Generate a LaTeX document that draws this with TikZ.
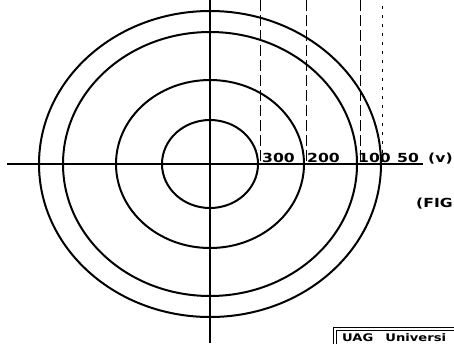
\documentclass[tikz,border=0pt]{standalone}
\usepackage{fontspec}
\setmainfont{DejaVu Sans}
\newfontfamily\letterfont[FakeStretch=1.25]{DejaVu Sans Bold}
\usetikzlibrary{positioning,calc}
\tikzset{
  axisline/.style={draw=black,line width=2.1pt},
  ring/.style={draw=black,line width=2pt},
  guide/.style={draw=black,line width=1pt,dash pattern=on 11pt off 4pt},
  guidedot/.style={draw=black,line width=1pt,dash pattern=on 3pt off 6pt},
  voltlabel/.style={font=\letterfont\fontsize{12.5}{12.5}\selectfont,inner sep=0pt,anchor=base west},
  tagbox/.style={draw=black,line width=1pt,double,double distance=1.2pt}
}

\begin{document}
\begin{tikzpicture}[x=1pt,y=-1pt]
\useasboundingbox (0,0) rectangle (454,343);
\clip (0,0) rectangle (454,343);
\fill[white] (0,0) rectangle (454,343);
% axes
\coordinate (o) at (210,164);
\coordinate (left) at (7,164);
\coordinate (right) at (423,164);
\coordinate (top) at (210,0);
\coordinate (bot) at (210,343);
\draw[axisline](left)--(right);
\draw[axisline](top)--(bot);
% equipotential rings
\draw[ring](o) ellipse [x radius=48pt,y radius=44pt];
\draw[ring](o) ellipse [x radius=94pt,y radius=84pt];
\draw[ring](o) ellipse [x radius=147pt,y radius=132pt];
\draw[ring](o) ellipse [x radius=171pt,y radius=153pt];
% guide lines
\coordinate (g3top) at (260,0);
\coordinate (g3) at (260,164);
\coordinate (g2top) at (306,0);
\coordinate (g2) at (306,164);
\coordinate (g1top) at (360,0);
\coordinate (g1) at (360,164);
\coordinate (g0top) at (382,6);
\coordinate (g0) at (382,164);
\draw[guide](g3top)--(g3);
\draw[guide](g2top)--(g2);
\draw[guide](g1top)--(g1);
\draw[guidedot](g0top)--(g0);
% labels
\node[voltlabel](l300) at (262,162){300};
\node[voltlabel](l200) at (307,162){200};
\node[voltlabel](l100) at (358,162){100};
\node[voltlabel](l50) at (397,162){50};
\node[voltlabel](unit) at (428,162){(v)};
\node[voltlabel](fig) at (416,207){(FIG};
% title block
\draw[tagbox](335,329) rectangle (470,360);
\node[voltlabel,font=\letterfont\fontsize{10.5}{10.5}\selectfont](tag) at (342,341){UAG\hspace{12pt}Universi};
\end{tikzpicture}
\end{document}
